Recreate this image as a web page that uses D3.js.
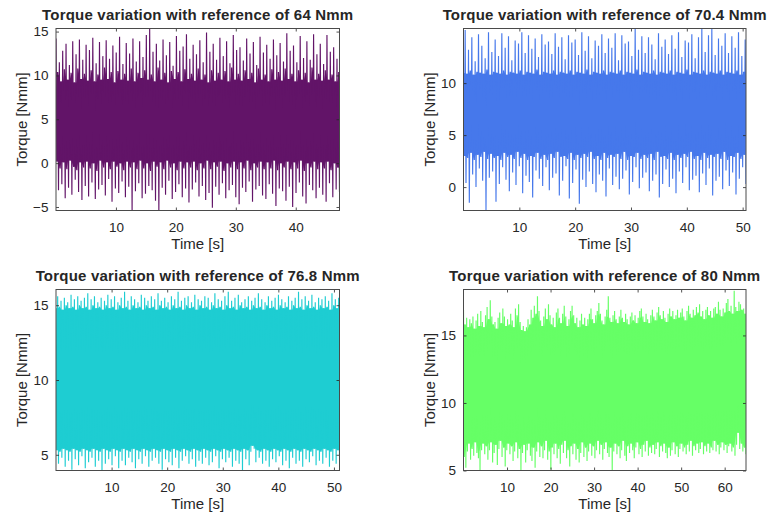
<!DOCTYPE html>
<html><head><meta charset="utf-8">
<script src="https://cdn.jsdelivr.net/npm/d3@7"></script>
<style>
html,body{margin:0;padding:0;background:#fff;}
svg text{font-family:"Liberation Sans",Arial,Helvetica,sans-serif;fill:#262626;}
</style></head><body>
<svg id="chart" width="768" height="519"></svg>
<script>
// ---- chart data ----
const titles = ["Torque variation with reference of 64 Nmm","Torque variation with reference of 70.4 Nmm","Torque variation with reference of 76.8 Nmm","Torque variation with reference of 80 Nmm"];
const seriesColors = ["#621468","#4678EB","#1ECDD2","#66FF66"];
const timeEnd = [47.3, 50.6, 51.0, 64.9];
const yLimits = [[-5.4, 15.35], [-2.25, 15.25], [3.95, 16.05], [5, 18.4]];
const xTicks = [[10,20,30,40],[10,20,30,40,50],[10,20,30,40,50],[10,20,30,40,50,60]];
const yTicks = [[-5,0,5,10,15],[0,5,10],[5,10,15],[5,10,15]];

// upper / lower samples of the torque signal (alternating in time)
const hi64 = [
14.2,10.4,11.5,9.3,12.8,10.7,13.6,9.5,11.2,10.3,13.9,9.2,12.4,10.8,14.1,9.6,11.8,10.2,13.5,9.4,
12.9,10.6,14.3,9.3,11.4,10.1,13.8,9.5,12.2,10.9,14.0,9.6,11.9,10.4,13.4,9.2,12.6,10.5,14.4,9.5,
11.3,10.2,13.7,9.4,12.5,10.8,14.2,9.3,11.6,10.3,13.9,9.7,12.1,10.6,14.6,9.5,15.3,10.1,12.7,9.3,
13.6,10.9,11.7,9.5,14.1,10.3,12.3,9.2,13.8,10.5,11.1,9.6,14.5,10.4,12.8,9.3,13.3,10.7,14.7,9.6,
11.9,10.2,13.5,9.4,12.4,10.8,14.0,9.5,11.5,10.1,14.9,9.2,12.7,10.6,13.6,9.4,11.8,10.3,14.3,9.5,
12.2,10.5,13.9,9.3,11.4,10.9,14.6,9.5,12.9,10.2,13.2,9.4,11.7,10.6,14.2,9.6,12.5,10.3,13.8,9.2,
11.2,10.8,14.4,9.5,12.6,10.1,13.5,9.3,11.9,10.7,14.1,9.5,12.3,10.4,13.7,9.4,11.6,10.8,14.8,9.6,
12.8,10.2,13.4,9.3,11.5,10.6,14.5,9.5,12.0,10.3,13.9,9.2,11.8,10.9,14.7,9.5,12.4,10.2,13.6,9.4,
11.3,10.6,14.6,9.5,12.7,10.1,13.2,9.3,11.9,10.4];
const lo64 = [
0.2,-3.1,-0.6,-2.4,0.1,-4.0,-0.7,-2.8,0.3,-3.6,-0.4,-1.9,-0.8,-3.3,0.1,-4.2,-0.5,-2.6,0.2,-3.8,
-0.6,-2.2,0.0,-4.1,-0.9,-3.0,0.3,-2.5,-0.5,-3.7,0.1,-1.8,-0.7,-4.4,0.2,-2.9,-0.4,-3.4,0.0,-2.1,
-0.8,-3.9,0.2,-2.7,-0.5,-5.4,0.1,-3.2,-0.7,-2.3,0.3,-4.0,-0.6,-3.5,0.0,-2.6,-0.9,-3.1,0.2,-4.3,
-0.4,-5.4,0.1,-2.8,-0.7,-3.6,0.3,-2.0,-0.5,-4.1,0.0,-3.3,-0.8,-2.4,0.2,-3.9,-0.6,-2.9,0.1,-4.5,
-0.5,-3.0,0.2,-2.2,-0.8,-3.8,0.0,-2.6,-0.6,-4.2,0.3,-3.4,-0.7,-5.1,0.1,-2.7,-0.4,-3.6,0.2,-2.3,
-0.9,-4.0,0.0,-3.1,-0.5,-2.5,0.2,-3.9,-0.7,-4.7,0.1,-2.8,-0.6,-3.3,0.3,-2.1,-0.8,-4.4,0.0,-3.0,
-0.5,-2.6,0.2,-3.7,-0.7,-4.1,0.1,-2.4,-0.6,-3.5,0.3,-4.9,-0.8,-2.9,0.0,-3.2,-0.5,-4.3,0.2,-2.7,
-0.7,-5.0,0.1,-3.4,-0.6,-2.2,0.3,-3.8,-0.9,-4.6,0.0,-2.5,-0.5,-3.1,0.2,-4.0,-0.7,-2.8,0.1,-3.6,
-0.6,-4.4,0.2,-2.3,-0.8,-3.9,0.0,-3.0,-0.5,-3.3];

const hi70 = [
11.0,15.1,10.9,13.2,11.2,14.4,10.8,12.1,11.1,14.7,11.0,13.6,10.9,12.4,11.3,14.9,10.8,13.0,11.1,14.2,
11.0,12.6,10.9,14.8,11.2,13.4,10.8,14.5,11.1,12.2,11.0,14.1,10.9,13.8,11.2,14.9,10.8,12.9,11.1,14.6,
11.0,13.3,10.9,14.3,11.3,12.5,10.8,14.7,11.1,13.7,11.0,14.0,10.9,12.8,11.2,14.8,10.8,13.5,11.1,14.4,
11.0,12.3,10.9,14.6,11.2,13.9,10.8,14.2,11.1,12.7,11.0,14.9,10.9,13.1,11.3,14.5,10.8,12.4,11.1,14.1,
11.0,13.6,10.9,14.7,11.2,12.9,10.8,14.3,11.1,13.4,11.0,14.8,10.9,12.2,11.2,14.6,10.8,13.8,11.1,14.0,
11.0,12.6,10.9,15.2,11.3,13.2,10.8,14.5,11.1,12.9,11.0,14.4,10.9,13.7,11.2,12.3,10.8,14.8,11.1,13.5,
11.0,14.2,10.9,12.8,11.2,14.6,10.8,13.3,11.1,14.9,11.0,12.5,10.9,14.1,11.3,13.9,10.8,14.7,11.1,12.4,
11.0,14.4,10.9,15.2,11.2,13.0,10.8,14.6,11.1,15.2,11.0,12.7,10.9,14.3,11.2,13.6,10.8,14.8,11.1,12.9,
11.0,14.5,10.9,13.4,11.2,14.9,10.8,12.6,11.1,14.2];
const lo70 = [
3.0,0.4,2.8,-1.5,3.3,1.2,2.6,0.0,3.1,1.8,2.9,0.6,3.4,-2.2,2.7,0.9,3.2,1.5,2.8,-1.4,
3.0,0.3,2.6,1.9,3.3,0.7,2.9,-0.4,3.1,1.4,2.7,0.2,3.4,2.0,2.8,-0.6,3.2,1.1,2.6,0.5,
3.0,-1.0,2.9,1.6,3.3,0.8,2.7,0.1,3.1,1.9,2.6,-0.3,3.2,0.9,2.8,1.3,3.4,-0.8,2.9,0.6,
3.0,2.0,2.7,-1.1,3.3,0.4,2.6,1.7,3.1,-1.6,2.8,0.7,3.2,0.0,2.9,1.5,3.4,0.3,2.7,-0.5,
3.0,1.2,2.6,0.6,3.3,-0.9,2.8,1.8,3.1,0.2,2.9,1.0,3.2,-0.2,2.7,0.8,3.4,1.6,2.6,-0.7,
3.0,0.5,2.9,1.9,3.3,-0.1,2.7,0.9,3.1,1.4,2.8,-0.4,3.2,0.6,2.6,1.2,3.4,-1.0,2.9,0.3,
3.0,1.7,2.7,0.0,3.3,0.8,2.6,-0.6,3.1,1.5,2.8,0.4,3.2,1.9,2.9,-0.3,3.4,0.7,2.7,1.1,
3.0,-0.5,2.6,1.3,3.3,0.2,2.8,1.8,3.1,-0.8,2.9,0.6,3.2,1.0,2.7,-0.2,3.4,1.6,2.6,0.1,
3.0,1.4,2.9,-0.7,3.3,0.8,2.7,1.9,3.1,0.3];

const hi77 = [
14.8,15.6,14.9,15.3,14.7,15.5,15.0,15.2,14.8,15.7,14.9,15.4,14.7,15.6,15.0,15.3,14.8,15.5,14.9,15.8,
14.7,15.4,15.0,15.6,14.8,15.2,14.9,15.5,14.7,15.3,15.0,15.7,14.8,15.4,14.9,15.6,14.7,15.2,15.0,15.5,
14.8,15.9,14.9,15.3,14.7,15.6,15.0,15.4,14.8,15.2,14.9,15.7,14.7,15.5,15.0,15.3,14.8,15.6,14.9,15.4,
14.7,15.8,15.0,15.3,14.8,15.5,14.9,15.2,14.7,15.6,15.0,15.4,14.8,15.9,14.9,15.3,14.7,15.5,15.0,15.6,
14.8,15.2,14.9,15.7,14.7,15.4,15.0,15.3,14.8,15.6,14.9,15.5,14.7,15.2,15.0,15.8,14.8,15.4,14.9,15.3,
14.7,15.6,15.0,15.9,14.8,15.3,14.9,15.5,14.7,15.7,15.0,15.2,14.8,15.4,14.9,15.6,14.7,15.3,15.0,15.5,
14.8,15.8,14.9,15.4,14.7,15.2,15.0,15.6,14.8,15.3,14.9,15.5,14.7,15.7,15.0,15.4,14.8,15.2,14.9,15.6,
14.7,15.3,15.0,15.5,14.8,15.9,14.9,15.4,14.7,15.6,15.0,15.3,14.8,15.7,14.9,15.2,14.7,15.5,15.0,15.4,
14.8,15.6,14.9,15.3,14.7,15.8,15.0,15.4,14.8,15.5];
const lo77 = [
5.3,4.4,5.2,4.8,5.4,4.2,5.3,4.6,5.2,4.0,5.4,4.7,5.3,4.3,5.2,4.9,5.4,4.1,5.3,4.5,
5.2,4.8,5.4,4.2,5.3,4.6,5.2,3.9,5.4,4.4,5.3,4.7,5.2,4.3,5.4,4.9,5.3,4.1,5.2,4.6,
5.4,4.3,5.3,4.8,5.2,4.5,5.4,4.1,5.3,4.7,5.2,4.4,5.4,4.9,5.3,4.2,5.2,4.6,5.4,4.8,
5.3,4.4,5.2,4.0,5.4,4.7,5.3,4.5,5.2,4.3,5.4,4.8,5.3,4.1,5.2,4.6,5.4,4.9,5.3,4.4,
5.2,4.7,5.4,4.2,5.3,4.6,5.2,4.4,5.4,4.8,5.3,4.3,5.2,4.5,5.4,4.9,5.3,4.1,5.2,4.7,
5.4,4.5,5.3,4.8,5.2,4.2,5.4,4.6,5.3,4.4,5.2,3.9,5.4,4.7,5.3,4.3,5.2,5.6,5.4,4.5,
5.3,4.8,5.2,4.4,5.4,4.6,5.3,4.2,5.2,4.7,5.4,4.5,5.3,4.9,5.2,4.3,5.4,4.6,5.3,4.1,
5.2,4.8,5.4,4.4,5.3,4.6,5.2,4.2,5.4,4.7,5.3,4.5,5.2,4.9,5.4,4.3,5.3,4.6,5.2,4.4,
5.4,4.8,5.3,4.2,5.2,4.6,5.4,4.4,5.3,4.9];

const hi80 = [
16.9,15.8,16.3,15.6,16.2,15.9,16.4,15.5,16.1,16.6,15.7,16.8,16.0,15.6,16.5,17.1,16.2,17.6,16.4,15.8,
16.0,15.5,16.3,16.7,15.9,17.0,16.4,15.7,16.2,15.8,16.6,16.1,15.6,17.0,16.5,17.3,16.0,15.4,15.7,15.3,
15.6,16.2,15.8,16.9,16.3,17.2,16.6,17.9,16.8,16.1,15.7,16.4,17.0,16.2,17.3,16.5,15.8,16.3,15.6,16.7,
17.0,16.3,15.9,16.6,17.2,16.4,15.7,16.2,16.8,17.2,16.5,15.9,16.3,15.6,16.1,16.6,15.8,16.3,15.7,16.2,
16.6,17.0,16.2,15.9,16.5,16.8,17.4,16.6,16.1,15.8,16.4,16.9,17.9,16.3,16.0,16.5,16.8,16.2,15.9,16.4,
16.9,16.3,16.0,16.6,16.2,15.8,16.4,16.7,16.1,16.5,15.9,16.3,16.8,17.0,16.4,16.0,16.6,16.2,15.9,16.5,
16.9,16.4,16.1,16.7,17.1,16.5,16.2,16.8,16.3,16.0,16.6,17.0,16.4,16.8,16.2,16.5,16.9,16.3,16.7,17.0,
16.4,16.1,16.8,17.2,16.6,16.3,16.9,16.5,17.1,16.7,17.3,16.4,16.8,16.2,16.9,17.1,16.5,16.8,16.3,17.0,
17.1,16.6,17.5,16.9,16.4,17.0,16.7,17.4,17.7,16.8,17.2,16.6,18.3,17.1,16.8,17.5,17.3,16.9,17.0,16.6];
const lo80 = [
6.0,5.2,6.4,7.0,5.8,6.6,6.1,7.1,6.3,5.9,5.0,6.5,7.0,6.2,6.8,5.8,6.5,7.1,5.6,6.3,
6.9,5.4,6.6,7.2,6.0,6.7,5.3,6.5,7.0,6.2,6.8,5.7,6.4,7.1,5.9,6.6,5.0,6.3,6.9,5.6,
6.5,7.0,6.1,5.7,6.7,5.2,6.4,7.1,6.0,6.8,5.9,6.5,7.2,5.8,6.4,5.1,6.7,6.2,7.0,5.9,
6.6,5.5,6.9,6.3,7.2,5.9,6.5,5.3,6.8,6.2,7.0,5.8,6.6,5.6,6.3,7.1,6.0,6.7,5.7,6.4,
7.0,6.1,6.8,5.9,6.5,7.2,6.2,6.9,5.8,6.6,7.1,6.3,6.0,6.7,5.0,6.4,7.0,6.2,6.8,5.9,
6.5,7.2,6.1,5.7,6.8,6.3,7.0,6.5,5.9,6.7,7.1,6.2,6.6,6.0,6.9,6.4,7.2,6.1,6.7,6.3,
6.9,6.2,6.6,7.1,6.0,6.8,6.4,7.0,6.3,5.9,6.7,6.1,6.5,7.1,6.2,6.8,6.0,6.6,7.0,6.4,
6.7,6.2,6.9,6.4,7.2,6.1,6.8,6.5,7.0,6.3,6.6,7.1,6.2,6.8,6.4,7.0,6.3,6.7,6.5,7.2,
6.4,6.9,6.2,6.7,7.1,6.5,6.9,6.3,6.8,7.0,6.4,6.7,6.1,6.9,7.8,6.6,7.0,6.4,6.7,6.2];

const highs = [hi64, hi70, hi77, hi80];
const lows = [lo64, lo70, lo77, lo80];

// ---- layout ----
const boxes = [
  {x0:56, x1:339.5, y0:28.5, y1:210.5},
  {x0:463.5, x1:746, y0:28.5, y1:210.5},
  {x0:56, x1:339.5, y0:289.5, y1:470.5},
  {x0:463.5, x1:746, y0:289.5, y1:470.5}
];
const svg = d3.select("#chart");
const defs = svg.append("defs");
const axisColor = "#262626";
const tickLen = 3;

boxes.forEach((b, p) => {
  const x = d3.scaleLinear().domain([0, timeEnd[p]]).range([b.x0, b.x1]);
  const y = d3.scaleLinear().domain(yLimits[p]).range([b.y1, b.y0]);
  const hi = highs[p], lo = lows[p];
  const n = hi.length;
  const dt = timeEnd[p] / (2 * n - 1);
  const pts = [];
  for (let i = 0; i < n; i++) {
    pts.push([2 * i * dt, hi[i]]);
    pts.push([(2 * i + 1) * dt, lo[i]]);
  }
  // dense band covered by the fast oscillation (local envelope of neighbouring samples)
  const band = hi.map((h, i) => {
    const a = Math.max(0, i - 1), c = Math.min(n - 1, i + 1);
    return {
      t: (2 * i + 0.5) * dt,
      top: Math.min(hi[a], hi[i], hi[c]),
      bot: Math.max(lo[a], lo[i], lo[c])
    };
  });
  defs.append("clipPath").attr("id", "clip" + p)
    .append("rect").attr("x", b.x0).attr("y", b.y0)
    .attr("width", b.x1 - b.x0).attr("height", b.y1 - b.y0);

  const g = svg.append("g");
  const dg = g.append("g").attr("clip-path", `url(#clip${p})`);
  dg.append("path").datum(band)
    .attr("fill", seriesColors[p]).attr("stroke", "none")
    .attr("d", d3.area().x(d => x(d.t)).y0(d => y(d.bot)).y1(d => y(d.top)));
  dg.append("path").datum(pts)
    .attr("fill", "none").attr("stroke", seriesColors[p])
    .attr("stroke-width", 1.15)
    .attr("d", d3.line().x(d => x(d[0])).y(d => y(d[1])));

  // axes (MATLAB style: inward ticks on all sides)
  const axB = d3.axisBottom(x).tickValues(xTicks[p]).tickSizeInner(-tickLen).tickSizeOuter(0).tickPadding(12);
  const axT = d3.axisTop(x).tickValues(xTicks[p]).tickSizeInner(-tickLen).tickSizeOuter(0).tickFormat("");
  const axL = d3.axisLeft(y).tickValues(yTicks[p]).tickSizeInner(-tickLen).tickSizeOuter(0).tickPadding(7.5);
  const axR = d3.axisRight(y).tickValues(yTicks[p]).tickSizeInner(-tickLen).tickSizeOuter(0).tickFormat("");
  [[axB, `translate(0,${b.y1})`], [axT, `translate(0,${b.y0})`], [axL, `translate(${b.x0},0)`], [axR, `translate(${b.x1},0)`]]
    .forEach(([ax, tr]) => {
      const a = g.append("g").attr("transform", tr).call(ax);
      a.select(".domain").remove();
      a.selectAll("line").attr("stroke", axisColor).attr("stroke-width", 0.8);
      a.selectAll("text").attr("font-size", 13.5).attr("fill", axisColor)
        .attr("font-family", "Liberation Sans, Arial, sans-serif");
    });
  g.append("rect").attr("x", b.x0).attr("y", b.y0)
    .attr("width", b.x1 - b.x0).attr("height", b.y1 - b.y0)
    .attr("fill", "none").attr("stroke", "#4a4a4a").attr("stroke-width", 1);

  // title and labels
  const cx = (b.x0 + b.x1) / 2, cy = (b.y0 + b.y1) / 2;
  g.append("text").attr("x", cx).attr("y", b.y0 - 8.5)
    .attr("text-anchor", "middle").attr("font-weight", "bold").attr("font-size", 15)
    .attr("letter-spacing", 0.2)
    .attr("fill", "#000").text(titles[p]);
  g.append("text").attr("x", cx).attr("y", b.y1 + 38.5)
    .attr("text-anchor", "middle").attr("font-size", 15).text("Time [s]");
  g.append("text").attr("transform", `translate(${b.x0 - 29},${cy}) rotate(-90)`)
    .attr("text-anchor", "middle").attr("font-size", 15).text("Torque [Nmm]");
});
</script>
</body></html>
